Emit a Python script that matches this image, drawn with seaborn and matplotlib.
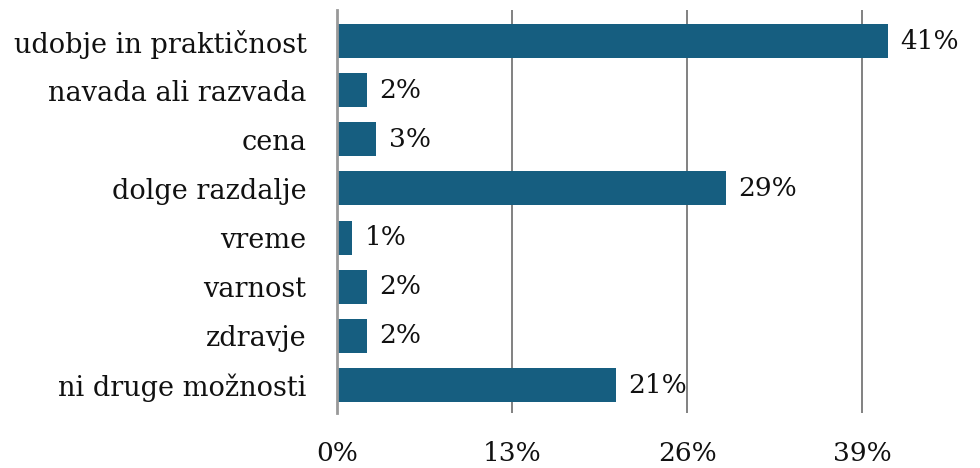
import pandas as pd
import matplotlib.pyplot as plt
import seaborn as sns

# data
categories = ["udobje in praktičnost", "navada ali razvada", "cena", "dolge razdalje",
              "vreme", "varnost", "zdravje", "ni druge možnosti"]
values = [40.9, 2.2, 2.9, 28.9, 1.1, 2.2, 2.2, 20.7]
labels = ["41%", "2%", "3%", "29%", "1%", "2%", "2%", "21%"]
ticks = [0, 13, 26, 39]

df = pd.DataFrame({"reason": categories, "share": values})

sns.set_style("white")
plt.rcParams['font.family'] = ['DejaVu Serif']

fig = plt.figure(figsize=(9.8, 4.68), dpi=100)
ax = fig.add_axes([0.344, 0.1175, 0.636, 0.861])

sns.barplot(data=df, x="share", y="reason", color="#165e80", saturation=1,
            width=0.69, linewidth=0, ax=ax, zorder=3)

ax.set_xlim(0, 46.3)
ax.set_ylim(7.57, -0.63)
ax.set_xticks(ticks)
ax.set_xticklabels([f"{t}%" for t in ticks])
ax.grid(axis="x", color="#777777", linewidth=1.3, zorder=0)
ax.set_axisbelow(True)
for s in ["top", "right", "bottom"]:
    ax.spines[s].set_visible(False)
ax.spines["left"].set_color("#999999")
ax.spines["left"].set_linewidth(2)
ax.spines["left"].set_zorder(4)
ax.tick_params(axis="x", length=0, pad=20, labelsize=19, colors="#111111")
ax.tick_params(axis="y", length=0, pad=22, labelsize=19.5, colors="#111111")
ax.set_xlabel("")
ax.set_ylabel("")

ax.bar_label(ax.containers[0], labels=labels, padding=9, fontsize=19, color="#111111")

fig.savefig("out.png", dpi=100)
